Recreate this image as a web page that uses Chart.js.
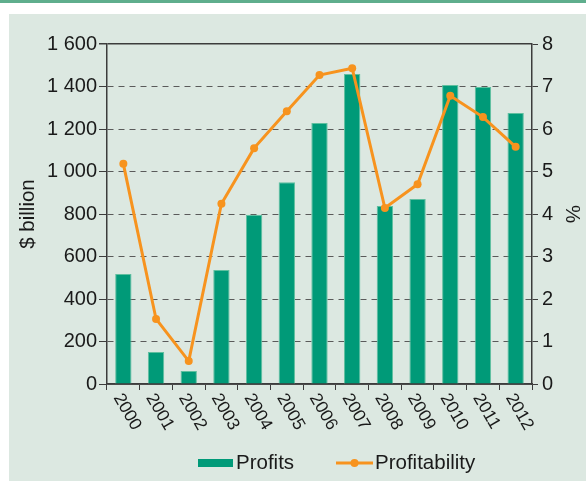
<!DOCTYPE html>
<html>
<head>
<meta charset="utf-8">
<script src="https://cdn.jsdelivr.net/npm/chart.js@4.4.1/dist/chart.umd.min.js"></script>
<style>
  html, body { margin: 0; padding: 0; background: #fff; }
  #wrap { position: relative; width: 586px; height: 481px; overflow: hidden; }
  #topline { position: absolute; left: 0; top: 0; width: 586px; height: 3px; background: #5fae8d; }
  #panel { position: absolute; left: 9px; top: 14px; right: 0; bottom: 0; background: #dce8e1; }
  canvas { position: absolute; left: 0; top: 0; }
</style>
</head>
<body>
<div id="wrap">
  <div id="topline"></div>
  <div id="panel"></div>
  <canvas id="chart" width="586" height="481"></canvas>
</div>
<script>
const years = ['2000', '2001', '2002', '2003', '2004', '2005', '2006', '2007', '2008', '2009', '2010', '2011', '2012'];
const profits = [518, 151, 61, 536, 797, 950, 1228, 1459, 838, 871, 1407, 1398, 1275]; // $ billion
const profitability = [5.18, 1.53, 0.54, 4.24, 5.55, 6.42, 7.27, 7.43, 4.14, 4.7, 6.78, 6.28, 5.58]; // %
const leftTitle = '$ billion';
const rightTitle = '%';

const fontFamily = '"Liberation Sans", Arial, Helvetica, sans-serif';
const textColor = '#1a1a1a';
const barColor = '#009a78';
const lineColor = '#f7931e';
const axisColor = '#3c3c3c';
const gridColor = '#5a5a5a';

// thousands with a space, like "1 600"
function spaced(v) {
  return String(v).replace(/\B(?=(\d{3})+(?!\d))/g, ' ');
}

// rotated year labels + bottom legend
const decorPlugin = {
  id: 'decor',
  afterDraw(chart) {
    const ctx = chart.ctx;
    const xScale = chart.scales.x;
    ctx.save();
    ctx.fillStyle = textColor;
    ctx.font = '17.5px ' + fontFamily;
    ctx.textAlign = 'left';
    ctx.textBaseline = 'middle';
    years.forEach((yr, i) => {
      const px = xScale.getPixelForValue(i);
      ctx.save();
      ctx.translate(px - 6, xScale.top + 11);
      ctx.rotate(Math.PI / 3);
      ctx.fillText(yr, 0, 0);
      ctx.restore();
    });

    // legend
    const ly = 463;
    const bars = chart.data.datasets[1];
    const line = chart.data.datasets[0];
    ctx.font = '20.5px ' + fontFamily;
    ctx.fillStyle = bars.backgroundColor;
    ctx.fillRect(198, ly - 4, 35, 8);
    ctx.fillStyle = textColor;
    ctx.fillText(bars.label, 236, ly);

    ctx.strokeStyle = line.borderColor;
    ctx.lineWidth = 3;
    ctx.beginPath();
    ctx.moveTo(336, ly);
    ctx.lineTo(373, ly);
    ctx.stroke();
    ctx.fillStyle = line.borderColor;
    ctx.beginPath();
    ctx.arc(354.5, ly, 4, 0, Math.PI * 2);
    ctx.fill();
    ctx.fillStyle = textColor;
    ctx.fillText(line.label, 375, ly);
    ctx.restore();
  }
};

const ctx = document.getElementById('chart').getContext('2d');
new Chart(ctx, {
  data: {
    labels: years,
    datasets: [
      {
        type: 'line',
        label: 'Profitability',
        data: profitability,
        yAxisID: 'y1',
        borderColor: lineColor,
        backgroundColor: lineColor,
        borderWidth: 3,
        pointRadius: 4,
        pointBorderWidth: 0,
        pointBackgroundColor: lineColor,
        tension: 0,
        order: 1
      },
      {
        type: 'bar',
        label: 'Profits',
        data: profits,
        yAxisID: 'y',
        backgroundColor: barColor,
        borderColor: '#5fbf9f',
        borderWidth: 1,
        categoryPercentage: 1,
        barPercentage: 0.5,
        order: 2
      }
    ]
  },
  options: {
    responsive: false,
    animation: false,
    layout: { padding: { top: 44, left: 0, right: 0, bottom: 0 } },
    plugins: {
      legend: { display: false },
      tooltip: { enabled: false }
    },
    scales: {
      x: {
        offset: true,
        grid: {
          offset: true,
          drawOnChartArea: false,
          tickLength: 6,
          tickColor: axisColor,
          color: axisColor
        },
        border: { color: axisColor, width: 1.5 },
        ticks: { display: false },
        afterFit(scale) { scale.height = 97; }
      },
      y: {
        position: 'left',
        min: 0,
        max: 1600,
        ticks: {
          stepSize: 200,
          color: textColor,
          padding: 2,
          font: { size: 20, family: fontFamily },
          callback: v => spaced(v)
        },
        grid: {
          color: c => (c.tick && c.tick.value === 1600) ? axisColor : gridColor,
          lineWidth: c => (c.tick && c.tick.value === 1600) ? 1.5 : 1,
          tickLength: 8,
          tickColor: axisColor
        },
        border: {
          color: axisColor,
          width: 1.5,
          dash: c => (c.tick && (c.tick.value === 1600 || c.tick.value === 0)) ? [] : [6, 5]
        },
        title: {
          display: true,
          text: leftTitle,
          color: textColor,
          font: { size: 20.5, family: fontFamily },
          padding: { top: 16, bottom: 0 }
        },
        afterFit(scale) { scale.width = 107; }
      },
      y1: {
        position: 'right',
        min: 0,
        max: 8,
        ticks: {
          stepSize: 1,
          color: textColor,
          padding: 4,
          font: { size: 20, family: fontFamily }
        },
        grid: {
          drawOnChartArea: false,
          tickLength: 6,
          tickColor: axisColor
        },
        border: { color: axisColor, width: 1.5 },
        title: {
          display: true,
          text: rightTitle,
          color: textColor,
          font: { size: 20.5, family: fontFamily },
          padding: { top: 2, bottom: 0 }
        },
        afterFit(scale) { scale.width = 54; }
      }
    }
  },
  plugins: [decorPlugin]
});
</script>
</body>
</html>
